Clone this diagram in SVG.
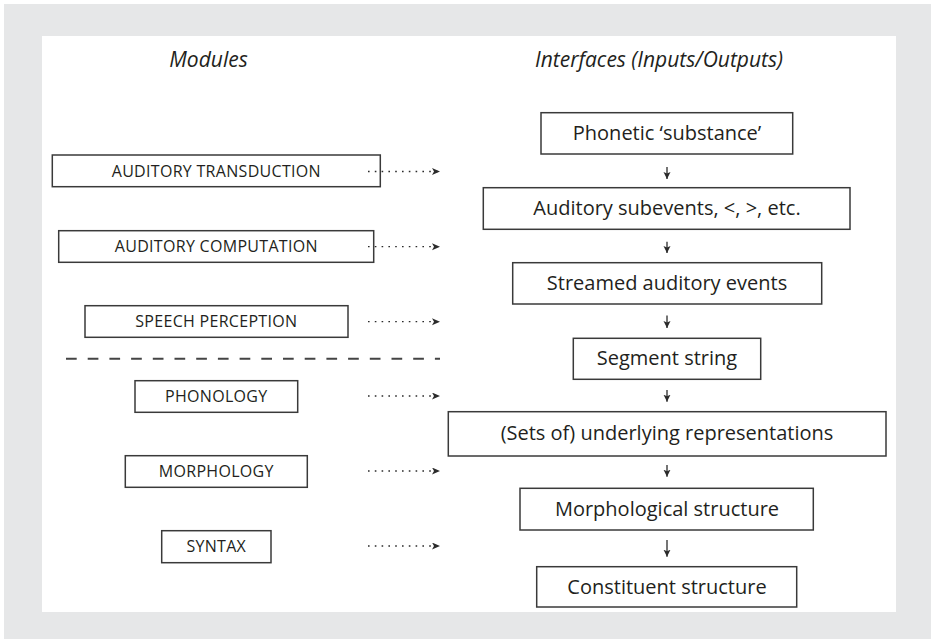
<svg xmlns="http://www.w3.org/2000/svg" width="931" height="639" viewBox="0 0 931 639">
<defs>
<marker id="ah" markerUnits="userSpaceOnUse" markerWidth="10" markerHeight="8" refX="8" refY="3.5" orient="auto">
<path d="M0,0 L8,3.5 L0,7 L2,3.5 Z" fill="#2b2b2b"/>
</marker>
<marker id="dh" markerUnits="userSpaceOnUse" markerWidth="8" markerHeight="8" refX="7" refY="3.5" orient="auto">
<path d="M0,0 L7,3.5 L0,7 L1.6,3.5 Z" fill="#2b2b2b"/>
</marker>
</defs>
<style>
.box{fill:#fff;stroke:#3a3a3a;stroke-width:1.5}
.mod{font-family:"Open Sans","Liberation Sans",sans-serif;font-size:16px;letter-spacing:0.3px;fill:#231f20;text-anchor:middle}
.int{font-family:"Open Sans","Liberation Sans",sans-serif;font-size:20px;fill:#231f20;text-anchor:middle}
.hdr{font-family:"Open Sans","Liberation Sans",sans-serif;font-size:21px;font-style:italic;fill:#231f20;text-anchor:middle}
.dot{stroke:#2b2b2b;stroke-width:1.3;stroke-dasharray:1.6 5.2;fill:none}
.down{stroke:#2b2b2b;stroke-width:1.3;fill:none}
</style>
<rect x="4" y="4" width="927" height="635" fill="#e6e7e8"/>
<rect x="42" y="36" width="854" height="576" fill="#fff"/>
<text class="hdr" x="208.5" y="67">Modules</text>
<text class="hdr" x="659" y="67">Interfaces (Inputs/Outputs)</text>

<g id="m-transduction"><rect class="box" x="52.3" y="155" width="328" height="31.7"/><text class="mod" x="216.3" y="176.8">AUDITORY TRANSDUCTION</text></g>
<g id="m-computation"><rect class="box" x="58.7" y="230.7" width="315" height="31.6"/><text class="mod" x="216.3" y="252.3">AUDITORY COMPUTATION</text></g>
<g id="m-speech"><rect class="box" x="85" y="305.7" width="263" height="31.6"/><text class="mod" x="216.3" y="327.3">SPEECH PERCEPTION</text></g>
<g id="m-phonology"><rect class="box" x="135" y="380.7" width="162.7" height="31.6"/><text class="mod" x="216.3" y="402.3">PHONOLOGY</text></g>
<g id="m-morphology"><rect class="box" x="125.3" y="455.7" width="182" height="31.6"/><text class="mod" x="216.3" y="477.3">MORPHOLOGY</text></g>
<g id="m-syntax"><rect class="box" x="161.7" y="530.7" width="109.3" height="32"/><text class="mod" x="216.3" y="552.3">SYNTAX</text></g>

<g id="i-phonetic"><rect class="box" x="541" y="112.7" width="251.7" height="41.3"/><text class="int" x="667" y="140">Phonetic ‘substance’</text></g>
<g id="i-subevents"><rect class="box" x="483.3" y="187.7" width="366.7" height="41.6"/><text class="int" x="667" y="215">Auditory subevents, &lt;, &gt;, etc.</text></g>
<g id="i-streamed"><rect class="box" x="512.7" y="262.7" width="309" height="41.3"/><text class="int" x="667" y="290">Streamed auditory events</text></g>
<g id="i-segment"><rect class="box" x="573.3" y="338.3" width="187.4" height="41"/><text class="int" x="667" y="365">Segment string</text></g>
<g id="i-underlying"><rect class="box" x="448.3" y="411.7" width="437.7" height="44.3"/><text class="int" x="667" y="440">(Sets of) underlying representations</text></g>
<g id="i-morph"><rect class="box" x="520" y="488.3" width="293.3" height="41.7"/><text class="int" x="667" y="515.5">Morphological structure</text></g>
<g id="i-constituent"><rect class="box" x="536.7" y="566.7" width="260" height="40.3"/><text class="int" x="667" y="593.5">Constituent structure</text></g>

<g id="connectors">
<line x1="66" y1="358.7" x2="440" y2="358.7" stroke="#444" stroke-width="2" stroke-dasharray="10.7 11"/>
<line class="dot" x1="368" y1="171.5" x2="440" y2="171.5" marker-end="url(#ah)"/>
<line class="dot" x1="368" y1="246.7" x2="440" y2="246.7" marker-end="url(#ah)"/>
<line class="dot" x1="368" y1="321.7" x2="440" y2="321.7" marker-end="url(#ah)"/>
<line class="dot" x1="368" y1="396" x2="440" y2="396" marker-end="url(#ah)"/>
<line class="dot" x1="368" y1="471" x2="440" y2="471" marker-end="url(#ah)"/>
<line class="dot" x1="368" y1="546" x2="440" y2="546" marker-end="url(#ah)"/>
<line class="down" x1="667" y1="167" x2="667" y2="179" marker-end="url(#dh)"/>
<line class="down" x1="667" y1="241.7" x2="667" y2="253" marker-end="url(#dh)"/>
<line class="down" x1="667" y1="315.5" x2="667" y2="328" marker-end="url(#dh)"/>
<line class="down" x1="667" y1="390" x2="667" y2="401.7" marker-end="url(#dh)"/>
<line class="down" x1="667" y1="465" x2="667" y2="476.7" marker-end="url(#dh)"/>
<line class="down" x1="667" y1="540" x2="667" y2="556.7" marker-end="url(#dh)"/>
</g>
</svg>
